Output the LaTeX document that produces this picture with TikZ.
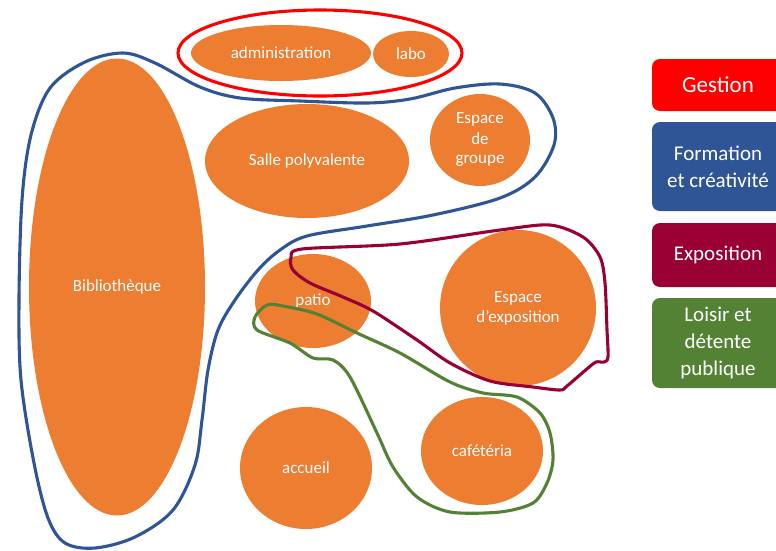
\documentclass[tikz,border=0pt]{standalone}
\usepackage{fontspec}
\setmainfont{Carlito}
\usetikzlibrary{shapes.geometric}
\definecolor{orng}{HTML}{ED7D31}
\definecolor{gred}{HTML}{FF0000}
\definecolor{fblue}{HTML}{2F5597}
\definecolor{expo}{HTML}{990033}
\definecolor{lgreen}{HTML}{548235}
\tikzset{
  room/.style={ellipse, fill=orng, draw=none, inner sep=0pt, text=white, align=center,
    font=\fontsize{17}{20}\selectfont},
  contour/.style={line width=3.1pt, line join=round},
  legbox/.style={rectangle, rounded corners=8pt, draw=none, inner sep=0pt, text=white,
    align=center, minimum width=132pt, font=\fontsize{21}{27}\selectfont}
}
\begin{document}
\begin{tikzpicture}[x=1pt,y=-1pt]
\useasboundingbox (0,0) rectangle (776,550);
\fill[white] (0,0) rectangle (776,550);
% rooms
\node[room, minimum width=176pt, minimum height=457pt] (biblio) at (117,287) {Biblioth\`eque};
\node[room, minimum width=180pt, minimum height=56pt] (admin) at (281,53) {administration};
\node[room, minimum width=76pt, minimum height=46pt] (labo) at (411,54) {labo};
\node[room, minimum width=204pt, minimum height=114pt] (salle) at (307,161) {Salle polyvalente};
\node[room, minimum width=100pt, minimum height=92pt] (groupe) at (480,140) {Espace\\de\\groupe};
\node[room, minimum width=116pt, minimum height=94pt] (patio) at (313,301) {patio};
\node[room, minimum width=156pt, minimum height=156pt] (expos) at (518,308) {Espace\\d’exposition};
\node[room, minimum width=132pt, minimum height=122pt] (accueil) at (306,468) {accueil};
\node[room, minimum width=122pt, minimum height=108pt] (cafe) at (482,451) {caf\'et\'eria};
% Gestion contour
\draw[contour, draw=gred] (320,53) ellipse [x radius=142, y radius=43];
% Formation contour
\draw[contour, draw=fblue] plot[smooth cycle, tension=0.55] coordinates {
 (21,380) (19,300) (22,200) (31,135) (50,88) (85,62) (123,53) (155,63) (200,87)
 (240,98) (300,101) (367,103) (410,99) (455,88) (500,84) (535,93) (553,118)
 (554,145) (535,177) (500,198) (433,215) (367,226) (307,236) (280,250) (258,270)
 (235,300) (218,330) (208,370) (202,420) (195,465) (173,510) (135,537) (95,548)
 (65,543) (48,518) (34,463)};
% Exposition contour
\draw[contour, draw=expo] plot[smooth cycle, tension=0.5] coordinates {
 (291,258) (302,249) (400,244) (500,230) (550,225) (583,237) (600,257) (605,283)
 (607,330) (608,357) (604,362) (596,362) (588,368) (567,386) (560,390) (533,387)
 (490,381) (450,363) (417,340) (373,311) (343,297) (310,283) (293,270)};
% Loisir contour
\draw[contour, draw=lgreen] plot[smooth cycle, tension=0.5] coordinates {
 (267,305) (283,306) (317,314) (357,333) (400,353) (450,382) (483,393) (517,397)
 (540,413) (550,433) (553,460) (547,483) (533,503) (500,512) (450,512) (417,497)
 (393,467) (377,433) (350,377) (333,360) (313,358) (290,343) (257,330) (255,317)};
% legend
\node[legbox, fill=gred, minimum height=52pt, font=\fontsize{23}{27}\selectfont] (lgest) at (718,85) {Gestion};
\node[legbox, fill=fblue, minimum height=89pt] (lform) at (718,166.5) {Formation\\et cr\'eativit\'e};
\node[legbox, fill=expo, minimum height=64pt] (lexpo) at (718,255) {\raisebox{-2pt}{Exposition}};
\node[legbox, fill=lgreen, minimum height=90pt] (lloisir) at (718,343) {Loisir et\\d\'etente\\publique};
\end{tikzpicture}
\end{document}
